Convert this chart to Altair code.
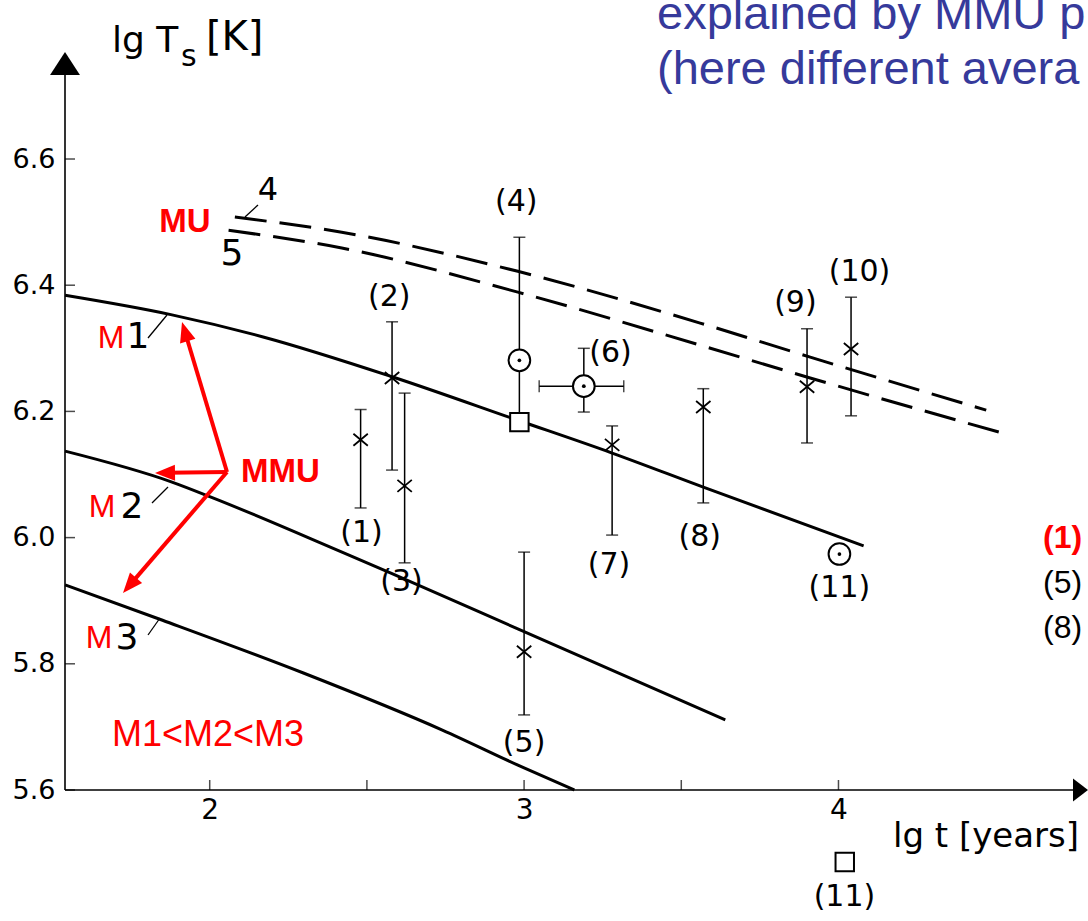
import altair as alt
import pandas as pd

# ---------------- data (lg t [years], lg Ts [K]) ----------------
# solid cooling curves for three masses
M1_T = [1.54, 1.88, 2.17, 2.58, 2.98, 3.28, 3.57, 4.08]
M1_TS = [6.384, 6.353, 6.318, 6.255, 6.186, 6.134, 6.080, 5.987]
M2_T = [1.54, 1.88, 2.01, 2.43, 2.58, 3.00, 3.64]
M2_TS = [6.137, 6.088, 6.063, 5.975, 5.943, 5.851, 5.711]
M3_T = [1.54, 1.85, 2.30, 2.74, 3.00, 3.16]
M3_TS = [5.925, 5.869, 5.785, 5.695, 5.635, 5.600]
# dashed curves 4 and 5
C4_T = [2.08, 2.42, 2.98, 3.56, 3.91, 4.47]
C4_TS = [6.508, 6.484, 6.422, 6.340, 6.286, 6.202]
C5_T = [2.06, 2.42, 2.98, 3.56, 3.91, 4.54]
C5_TS = [6.487, 6.459, 6.389, 6.305, 6.253, 6.163]

# sources drawn as crosses with vertical error bars
XPT_ID = ["(1)", "(2)", "(3)", "(5)", "(7)", "(8)", "(9)", "(10)"]
XPT_T = [2.48, 2.58, 2.62, 3.00, 3.28, 3.57, 3.90, 4.04]
XPT_TS = [6.155, 6.253, 6.082, 5.819, 6.147, 6.207, 6.239, 6.299]
XPT_HI = [6.203, 6.342, 6.229, 5.977, 6.177, 6.236, 6.331, 6.381]
XPT_LO = [6.047, 6.107, 5.960, 5.719, 6.004, 6.055, 6.150, 6.193]

# sources drawn as dotted circles: (4), (6), (11)
CIRC_ID = ["(4)", "(6)", "(11)"]
CIRC_T = [2.985, 3.19, 4.003]
CIRC_TS = [6.281, 6.240, 5.974]
CIRC_HI = [6.476, 6.300]
CIRC_LO = [6.199]          # lower end for (6); (4) runs down to its square
CIRC6_TLO, CIRC6_THI = 3.048, 3.317

# alternative values drawn as squares: (4), (11)
SQ_T = [2.985, 4.02]
SQ_TS = [6.183, 5.486]

# label texts and their places in axis units
LAB_TEXT = ["(1)", "(2)", "(3)", "(4)", "(5)", "(6)", "(7)", "(8)", "(9)", "(10)", "(11)", "(11)"]
LAB_T = [2.483, 2.571, 2.610, 2.975, 3.0, 3.275, 3.270, 3.559, 3.863, 4.067, 4.003, 4.019]
LAB_TS = [6.007, 6.381, 5.930, 6.532, 5.674, 6.293, 5.957, 6.001, 6.372, 6.421, 5.920, 5.430]

X_TICKS = [2, 3, 4]
X_MINOR = [2, 2.5, 3, 3.5, 4]
Y_TICKS = [5.6, 5.8, 6.0, 6.2, 6.4, 6.6]

# ---------------- layout ----------------
W, H = 1088, 921
LEFT = 65
AXIS_Y = 790
PLOT_W = W - LEFT
PLOT_H = AXIS_Y

HAND = "DejaVu Sans"
SANS = "Liberation Sans, Arial"
RED = "#FF0000"
BLUE = "#363A9B"

xs = alt.Scale(domain=[1.5397, 4.7937], nice=False, zero=False)
ys = alt.Scale(domain=[5.6, 6.852], nice=False, zero=False)
x_axis = alt.Axis(values=X_TICKS, format="d", labelFont=HAND, labelFontSize=28,
                  labelPadding=6, labelColor="black", domain=False, ticks=False,
                  grid=False, title=None, labelFlush=False)
y_axis = alt.Axis(values=Y_TICKS, format=".1f", labelFont=HAND, labelFontSize=27,
                  labelPadding=10, labelColor="black", domain=False, ticks=False,
                  grid=False, title=None, labelFlush=False)


def X(field):
    return alt.X(field, type="quantitative", scale=xs, axis=x_axis, title=None)


def Y(field):
    return alt.Y(field, type="quantitative", scale=ys, axis=y_axis, title=None)


def curve_df(name, t, ts):
    return pd.DataFrame({"curve": name, "lgt": t, "lgT": ts, "i": range(len(t))})


solid = pd.concat([curve_df("M1", M1_T, M1_TS), curve_df("M2", M2_T, M2_TS),
                   curve_df("M3", M3_T, M3_TS)])
dashed = pd.concat([curve_df("4", C4_T, C4_TS), curve_df("5", C5_T, C5_TS)])

solid_layer = alt.Chart(solid).mark_line(color="black", strokeWidth=3, interpolate="monotone").encode(
    x=X("lgt"), y=Y("lgT"), detail="curve:N", order="i:Q")
dashed_layer = alt.Chart(dashed).mark_line(color="black", strokeWidth=3, strokeDash=[32, 13],
                                           interpolate="monotone").encode(
    x=X("lgt"), y=Y("lgT"), detail="curve:N", order="i:Q")

# error bars
vbars = pd.DataFrame({"lgt": XPT_T + [CIRC_T[0], CIRC_T[1]],
                      "lo": XPT_LO + [SQ_TS[0], CIRC_LO[0]],
                      "hi": XPT_HI + [CIRC_HI[0], CIRC_HI[1]]})
hcaps = pd.DataFrame({"lgt": XPT_T + XPT_T + [CIRC_T[0], CIRC_T[1], CIRC_T[1]],
                      "lgT": XPT_LO + XPT_HI + [CIRC_HI[0], CIRC_HI[1], CIRC_LO[0]]})
hbar = pd.DataFrame({"lgt": [CIRC6_TLO], "lgt2": [CIRC6_THI], "lgT": [CIRC_TS[1]]})
vcaps = pd.DataFrame({"lgt": [CIRC6_TLO, CIRC6_THI], "lgT": [CIRC_TS[1], CIRC_TS[1]]})

vbar_layer = alt.Chart(vbars).mark_rule(color="black", strokeWidth=1.5).encode(
    x=X("lgt"), y=Y("lo"), y2="hi:Q")
hbar_layer = alt.Chart(hbar).mark_rule(color="black", strokeWidth=1.5).encode(
    x=X("lgt"), x2="lgt2:Q", y=Y("lgT"))
hcap_layer = alt.Chart(hcaps).mark_tick(color="black", thickness=1.5, size=12, orient="horizontal").encode(
    x=X("lgt"), y=Y("lgT"))
vcap_layer = alt.Chart(vcaps).mark_tick(color="black", thickness=1.5, size=12, orient="vertical").encode(
    x=X("lgt"), y=Y("lgT"))

cross_df = pd.DataFrame({"id": XPT_ID, "lgt": XPT_T, "lgT": XPT_TS})
cross_layer = alt.Chart(cross_df).mark_point(
    shape="M-1.2,-1L1.2,1M1.2,-1L-1.2,1", size=144, filled=False, color="black",
    strokeWidth=1.8, opacity=1).encode(x=X("lgt"), y=Y("lgT"))

circ_df = pd.DataFrame({"id": CIRC_ID, "lgt": CIRC_T, "lgT": CIRC_TS})
circ_layer = alt.Chart(circ_df).mark_point(
    shape="circle", size=470, fill="white", fillOpacity=1, stroke="black",
    strokeWidth=2, opacity=1).encode(x=X("lgt"), y=Y("lgT"))
dot_layer = alt.Chart(circ_df).mark_point(
    shape="circle", size=14, filled=True, color="black", opacity=1).encode(x=X("lgt"), y=Y("lgT"))

sq_df = pd.DataFrame({"lgt": SQ_T, "lgT": SQ_TS})
sq_layer = alt.Chart(sq_df).mark_point(
    shape="square", size=340, fill="white", fillOpacity=1, stroke="black",
    strokeWidth=2, opacity=1).encode(x=X("lgt"), y=Y("lgT"))

lab_df = pd.DataFrame({"text": LAB_TEXT, "lgt": LAB_T, "lgT": LAB_TS})
lab_layer = alt.Chart(lab_df).mark_text(font=HAND, fontSize=30, color="black").encode(
    x=X("lgt"), y=Y("lgT"), text="text:N")

# axis ticks (pointing into the plot)
xt_layer = alt.Chart(pd.DataFrame({"lgt": X_MINOR})).mark_tick(
    color="black", thickness=1.5, size=10, orient="vertical").encode(
    x=X("lgt"), y=alt.value(AXIS_Y - 5))
yt_layer = alt.Chart(pd.DataFrame({"lgT": Y_TICKS})).mark_tick(
    color="black", thickness=1.5, size=10, orient="horizontal").encode(
    x=alt.value(5), y=Y("lgT"))


# ---------------- page-space decorations ----------------
def note(text, x, y, size, color="black", font=HAND, weight="normal",
         align="center", baseline="middle"):
    return alt.Chart(alt.Data(values=[{"t": text}])).mark_text(
        font=font, fontSize=size, fontWeight=weight, color=color,
        align=align, baseline=baseline).encode(
        x=alt.value(x - LEFT), y=alt.value(y), text="t:N")


def seg(x1, y1, x2, y2, color="black", width=1.5):
    return alt.Chart(alt.Data(values=[{"k": 0}])).mark_rule(
        color=color, strokeWidth=width).encode(
        x=alt.value(x1 - LEFT), y=alt.value(y1), x2=alt.value(x2 - LEFT), y2=alt.value(y2))


def head(x, y, angle, path, size, color="black"):
    return alt.Chart(alt.Data(values=[{"k": 0}])).mark_point(
        shape=path, size=size, angle=angle % 360, filled=True, color=color,
        opacity=1, strokeWidth=0).encode(x=alt.value(x - LEFT), y=alt.value(y))


def arrow(x0, y0, x1, y1, color=RED, width=4):
    import math
    dx, dy = x1 - x0, y1 - y0
    L = math.hypot(dx, dy)
    ang = math.degrees(math.atan2(dx, -dy))
    ex, ey = x1 - dx / L * 12, y1 - dy / L * 12
    return [seg(x0, y0, ex, ey, color, width),
            head(x1, y1, ang, "M0,0L0.8,2L-0.8,2Z", 400, color)]


deco = [
    # axes with arrow heads
    seg(LEFT, 62, LEFT, AXIS_Y, width=1.6),
    seg(LEFT, AXIS_Y, 1080, AXIS_Y, width=1.6),
    head(LEFT, 52, 0, "M0,0L1.3,2L-1.3,2Z", 529),
    head(1088, AXIS_Y, 90, "M0,0L1.15,1.5L-1.15,1.5Z", 400),
    # axis titles
    note("lg T", 112, 52, 36, align="left", baseline="alphabetic"),
    note("s", 181, 66, 30, align="left", baseline="alphabetic"),
    note("[K]", 206, 50, 40, align="left", baseline="alphabetic"),
    note("lg t [years]", 893, 847, 34, align="left", baseline="alphabetic"),
    # curve labels with leader strokes
    note("4", 268, 190, 32),
    seg(245, 217, 258, 205, width=1.3),
    note("5", 232, 254, 36),
    seg(148, 338, 167, 315, width=1.3),
    seg(152, 503, 168, 487, width=1.3),
    seg(148, 635, 160, 618, width=1.3),
    note("M", 111, 338, 32, color=RED, font=SANS),
    note("1", 138, 337, 36),
    note("M", 102, 507, 32, color=RED, font=SANS),
    note("2", 132, 507, 36),
    note("M", 99, 638, 32, color=RED, font=SANS),
    note("3", 127, 638, 36),
    # red annotations
    note("MU", 185, 222, 33, color=RED, font=SANS, weight="bold"),
    note("MMU", 241, 472, 33, color=RED, font=SANS, weight="bold", align="left"),
    note("M1<M2<M3", 112, 735, 36, color=RED, font=SANS, align="left"),
    *arrow(227, 472, 182, 322),
    *arrow(227, 472, 155, 473),
    *arrow(227, 472, 123, 593),
    # side text
    note("(1)", 1043, 538, 32, color=RED, font=SANS, weight="bold", align="left"),
    note("(5)", 1043, 583, 32, font=SANS, align="left"),
    note("(8)", 1043, 628, 32, font=SANS, align="left"),
    # heading lines in blue
    note("explained by MMU p", 657, 29, 47, color=BLUE, font=SANS, align="left", baseline="alphabetic"),
    note("(here different avera", 657, 84, 47, color=BLUE, font=SANS, align="left", baseline="alphabetic"),
]

chart = alt.layer(
    solid_layer, dashed_layer, vbar_layer, hbar_layer, hcap_layer, vcap_layer,
    sq_layer, circ_layer, dot_layer, cross_layer, lab_layer, xt_layer, yt_layer,
    *deco,
).properties(
    width=PLOT_W, height=PLOT_H,
    padding={"left": LEFT, "top": 0, "right": 0, "bottom": H - AXIS_Y},
    autosize=alt.AutoSizeParams(type="none"),
    background="white",
).configure_view(stroke=None)

chart.save("out.html", embed_options={"renderer": "svg", "actions": False})
